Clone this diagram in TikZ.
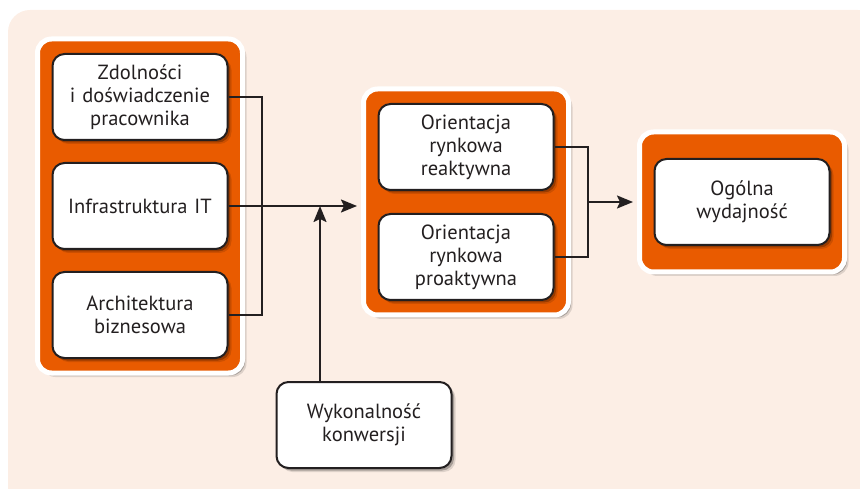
\documentclass[tikz,border=0pt]{standalone}
\usepackage{fontspec}
\setmainfont{PT Sans}
\usetikzlibrary{positioning, fit, backgrounds, arrows.meta, shadows}
\definecolor{peachbg}{RGB}{252,238,229}
\definecolor{orng}{RGB}{233,91,0}
\definecolor{ink}{RGB}{35,31,32}
\tikzstyle{softshadow} = [drop shadow={shadow xshift=4pt, shadow yshift=-4pt, opacity=.12, fill=black}, drop shadow={shadow xshift=2.5pt, shadow yshift=-2.5pt, opacity=.25, fill=black}]
\tikzstyle{block} = [rectangle, draw=ink, line width=2pt, rounded corners=12pt, fill=white, text=ink, minimum width=175pt, minimum height=86pt, text width=168pt, align=center, font=\fontsize{20.5}{23}\selectfont, softshadow]
\tikzstyle{group} = [rectangle, draw=white, line width=5pt, rounded corners=14pt, fill=orng, inner sep=14pt, softshadow]
\tikzstyle{line} = [draw=ink, line width=2pt]
\tikzstyle{arrow} = [line, -{Stealth[length=16pt,width=13pt,inset=3pt]}]

\begin{document}
\begin{tikzpicture}[x=1pt, y=1pt]
\useasboundingbox (0,0) rectangle (860,-489);
\begin{scope}[on background layer]
\fill[peachbg, rounded corners=22pt] (8,-10) rectangle (880,-510);
\end{scope}

% left column
\node [block] (zdol) at (140,-97) {Zdolności\\i doświadczenie\\pracownika};
\node [block, below=21pt of zdol] (infra) {Infrastruktura IT};
\node [block, below=21pt of infra] (arch) {Architektura\\biznesowa};

% middle column
\node [block] (react) at (466,-147) {Orientacja\\rynkowa\\reaktywna};
\node [block, below=22pt of react] (proakt) {Orientacja\\rynkowa\\proaktywna};

\node [block] (ogolna) at (742,-202) {Ogólna\\wydajność};
\node [block] (wykon) at (364,-425) {Wykonalność\\konwersji};

\begin{scope}[on background layer]
\node [group, fit=(zdol)(arch)] (leftgrp) {};
\node [group, fit=(react)(proakt)] (midgrp) {};
\node [group, fit=(ogolna), inner ysep=26pt] (rightgrp) {};
\end{scope}

\coordinate (join1) at (262,-205);
\coordinate (join2) at (320,-205);
\coordinate (join3) at (588,-202);

\path [line] (zdol.east) -| (join1) |- (arch.east);
\path [arrow, shorten >=4pt] (infra.east) -- (infra.east -| midgrp.west);
\path [arrow] (wykon.north -| join2) -- ([yshift=-1pt]join2);
\path [line] (react.east) -| (join3) |- (proakt.east);
\path [arrow, shorten >=4pt] (join3) -- (join3 -| rightgrp.west);

\end{tikzpicture}
\end{document}
